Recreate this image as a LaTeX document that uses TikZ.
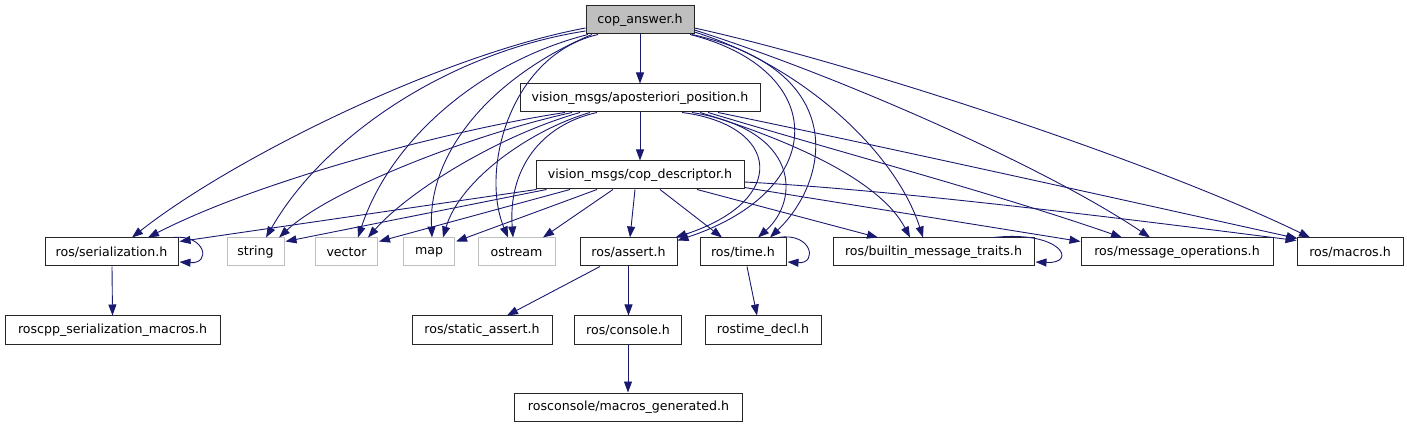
\documentclass[tikz,border=0pt]{standalone}
\usepackage{fontspec}
\setmainfont{DejaVu Sans}
\usetikzlibrary{arrows.meta}
\definecolor{edgecol}{HTML}{191970}
\definecolor{lightgr}{HTML}{BFBFBF}
\begin{document}
\begin{tikzpicture}[x=1pt,y=-1pt,
  box/.style={draw=black!85, line width=1pt, inner sep=0pt, minimum height=28pt, font=\fontsize{12.6}{14}\selectfont, text=black},
  graybox/.style={box, draw=lightgr},
  rootbox/.style={box, fill=lightgr},
  dep/.style={draw=edgecol, line width=0.9pt, -{Triangle[length=11pt,width=8pt]}}]
\useasboundingbox (0,0) rectangle (1407,427);
% nodes
\node[rootbox, minimum width=108pt] (cop) at (640,20) {cop\_answer.h};
\node[box, minimum width=240pt] (apost) at (640,98) {vision\_msgs/aposteriori\_position.h};
\node[box, minimum width=208pt] (copdesc) at (640,175) {vision\_msgs/cop\_descriptor.h};
\node[box, minimum width=133pt] (ser) at (111.5,252) {ros/serialization.h};
\node[graybox, minimum width=57pt] (string) at (255.5,252) {string};
\node[graybox, minimum width=62pt] (vector) at (346.5,252) {vector};
\node[graybox, minimum width=51pt] (map) at (429,252) {map};
\node[graybox, minimum width=77pt] (ostream) at (516.5,252) {ostream};
\node[box, minimum width=97pt] (assert) at (628.5,252) {ros/assert.h};
\node[box, minimum width=86pt] (time) at (743,252) {ros/time.h};
\node[box, minimum width=201pt] (builtin) at (933.5,252) {ros/builtin\_message\_traits.h};
\node[box, minimum width=192pt] (msgops) at (1177,252) {ros/message\_operations.h};
\node[box, minimum width=106pt] (macros) at (1350,252) {ros/macros.h};
\node[box, minimum width=215pt] (roscpp) at (112.5,330) {roscpp\_serialization\_macros.h};
\node[box, minimum width=140pt] (static) at (482,330) {ros/static\_assert.h};
\node[box, minimum width=107pt] (console) at (628,330) {ros/console.h};
\node[box, minimum width=116pt] (rostime) at (763,330) {rostime\_decl.h};
\node[box, minimum width=228pt] (macgen) at (628.5,407) {rosconsole/macros\_generated.h};
% edges from cop_answer.h
\draw[dep] (cop) -- (apost);
\draw[dep] ([shift={(0,8)}]cop.west) .. controls (440,55) and (230,160) .. ([shift={(20.5,0)}]ser.north);
\draw[dep] ([shift={(0,11)}]cop.west) .. controls (450,52) and (325,135) .. ([shift={(10.5,0)}]string.north);
\draw[dep] ([shift={(-52,0)}]cop.south) .. controls (480,62) and (390,140) .. ([shift={(11.5,0)}]vector.north);
\draw[dep] ([shift={(-48,0)}]cop.south) .. controls (495,75) and (428,150) .. ([shift={(3,0)}]map.north);
\draw[dep] ([shift={(-42,0)}]cop.south) .. controls (510,55) and (480,170) .. ([shift={(-8.5,0)}]ostream.north);
\draw[dep] ([shift={(50,0)}]cop.south) .. controls (830,70) and (830,190) .. ([shift={(0,3)}]assert.north east);
\draw[dep] ([shift={(52,0)}]cop.south) .. controls (850,70) and (830,180) .. ([shift={(27,0)}]time.north);
\draw[dep] ([shift={(0,12)}]cop.east) .. controls (800,65) and (895,150) .. ([shift={(-10.5,0)}]builtin.north);
\draw[dep] ([shift={(0,10)}]cop.east) .. controls (850,80) and (1050,170) .. ([shift={(-27,0)}]msgops.north);
\draw[dep] ([shift={(0,8)}]cop.east) .. controls (850,62) and (1150,160) .. ([shift={(-40,0)}]macros.north);
% edges from aposteriori_position.h
\draw[dep] (apost) -- (copdesc);
\draw[dep] ([shift={(-75,0)}]apost.south) .. controls (450,130) and (260,180) .. ([shift={(36.5,0)}]ser.north);
\draw[dep] ([shift={(-68,0)}]apost.south) .. controls (470,135) and (330,190) .. ([shift={(23.5,0)}]string.north);
\draw[dep] ([shift={(-60,0)}]apost.south) .. controls (500,135) and (410,190) .. ([shift={(21.5,0)}]vector.north);
\draw[dep] ([shift={(-50,0)}]apost.south) .. controls (530,130) and (460,180) .. ([shift={(14,0)}]map.north);
\draw[dep] ([shift={(-43,0)}]apost.south) .. controls (540,125) and (508,170) .. ([shift={(-3.5,0)}]ostream.north);
\draw[dep] ([shift={(42,0)}]apost.south) .. controls (780,125) and (790,200) .. ([shift={(-2,0)}]assert.north east);
\draw[dep] ([shift={(52,0)}]apost.south) .. controls (800,130) and (800,200) .. ([shift={(15,0)}]time.north);
\draw[dep] ([shift={(60,0)}]apost.south) .. controls (790,140) and (880,180) .. ([shift={(-23.5,0)}]builtin.north);
\draw[dep] ([shift={(68,0)}]apost.south) .. controls (850,155) and (1000,195) .. ([shift={(-55,0)}]msgops.north);
\draw[dep] ([shift={(78,0)}]apost.south) .. controls (900,150) and (1150,206) .. ([shift={(1,1)}]macros.north west);
% edges from cop_descriptor.h
\draw[dep] ([shift={(1,0)}]copdesc.south west) -- ([shift={(1,4)}]ser.north east);
\draw[dep] ([shift={(11,0)}]copdesc.south west) -- ([shift={(1,4)}]string.north east);
\draw[dep] ([shift={(-70,0)}]copdesc.south) -- ([shift={(1,4)}]vector.north east);
\draw[dep] ([shift={(-43,0)}]copdesc.south) -- ([shift={(1,4)}]map.north east);
\draw[dep] ([shift={(-27,0)}]copdesc.south) -- ([shift={(26.5,0)}]ostream.north);
\draw[dep] ([shift={(-5,0)}]copdesc.south) -- ([shift={(1.5,0)}]assert.north);
\draw[dep] ([shift={(20,0)}]copdesc.south) -- ([shift={(-21,0)}]time.north);
\draw[dep] ([shift={(57,0)}]copdesc.south) -- ([shift={(-55.5,0)}]builtin.north);
\draw[dep] ([shift={(0,-2)}]copdesc.south east) -- ([shift={(0,4)}]msgops.north west);
\draw[dep] ([shift={(0,7)}]copdesc.east) .. controls (900,190) and (1150,222) .. ([shift={(0,3)}]macros.north west);
% self loops
\draw[dep] ([shift={(-5,0)}]ser.north east) .. controls (205,234) and (212,264) .. ([shift={(1,10)}]ser.east);
\draw[dep] ([shift={(-8,0)}]time.north east) .. controls (812,232) and (818,264) .. ([shift={(1,10)}]time.east);
\draw[dep] ([shift={(-41,0)}]builtin.north east) .. controls (1062,230) and (1078,264) .. ([shift={(1,10)}]builtin.east);
% lower edges
\draw[dep] ([shift={(0.5,0)}]ser.south) -- (roscpp.north);
\draw[dep] ([shift={(-28.5,0)}]assert.south) -- ([shift={(25,0)}]static.north);
\draw[dep] (assert.south) -- (assert.south |- console.north);
\draw[dep] (console.south) -- (console.south |- macgen.north);
\draw[dep] ([shift={(4,0)}]time.south) -- ([shift={(-6,0)}]rostime.north);
\end{tikzpicture}
\end{document}
